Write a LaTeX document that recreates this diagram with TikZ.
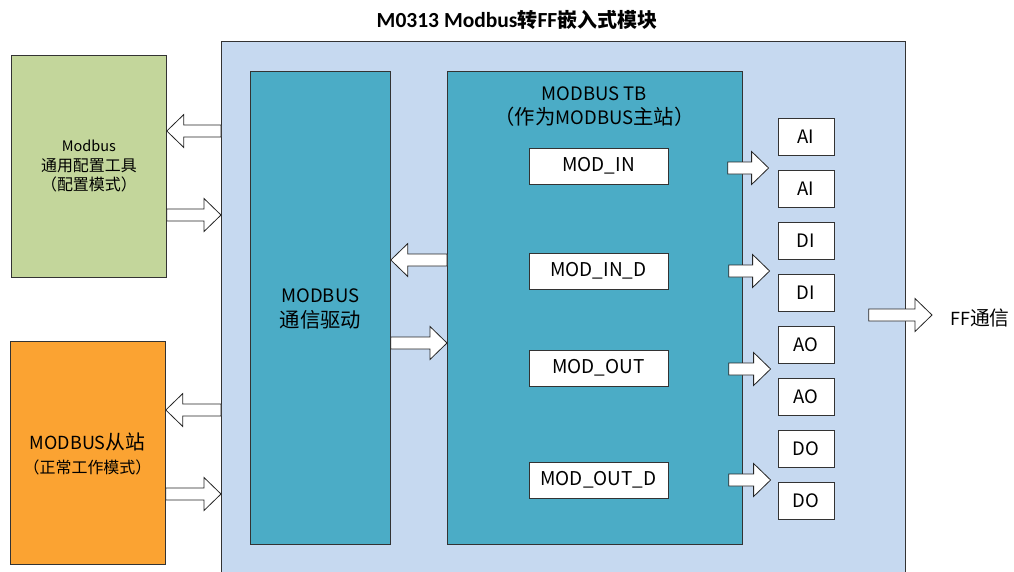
\documentclass[tikz,border=0pt]{standalone}
\usepackage{fontspec}
\setmainfont{Noto Sans CJK SC}
\newfontfamily\zh{Noto Sans CJK SC}[Scale=1.1]
\newfontfamily\carl{Carlito}
\usetikzlibrary{calc}
\definecolor{bgblue}{HTML}{C6D9F0}
\definecolor{tealbox}{HTML}{4BACC6}
\definecolor{greenbox}{HTML}{C3D69B}
\definecolor{orangebox}{HTML}{FBA332}
\definecolor{edge}{HTML}{333333}
\tikzset{
  box/.style={draw=edge, line width=0.8pt, rectangle, inner sep=0pt, anchor=north west, align=center},
  modbox/.style={box, fill=white, minimum width=139pt, minimum height=36pt, anchor=center, font=\fontsize{19}{22}\selectfont},
  iobox/.style={box, fill=white, minimum width=56pt, minimum height=37pt, anchor=center, font=\fontsize{18.5}{22}\selectfont},
  barrowstyle/.style={draw=black!85, fill=white, line width=0.8pt, line join=miter},
  txt/.style={inner sep=0pt, align=center},
}
\newcommand\blockarrow[2]{%
  \draw[barrowstyle] let \p1=(#1), \p2=(#2), \n1={sign(\x2-\x1)*17} in
    (\x1,{\y1+6pt}) -- ({\x2-\n1*1pt},{\y1+6pt}) -- ({\x2-\n1*1pt},{\y1+16.5pt})
    -- (\x2,\y1) -- ({\x2-\n1*1pt},{\y1-16.5pt}) -- ({\x2-\n1*1pt},{\y1-6pt})
    -- (\x1,{\y1-6pt}) -- cycle;}
\begin{document}
\begin{tikzpicture}[x=1pt,y=-1pt]
\useasboundingbox (0,0) rectangle (1014,571);
% title
\node[txt] (title) at (517,20) {\bfseries{\carl\fontsize{21.5}{26}\selectfont M0313 Modbus}{\fontsize{20}{26}\selectfont 转}{\carl\fontsize{21.5}{26}\selectfont FF}{\fontsize{20}{26}\selectfont 嵌入式模块}};
% main module
\node[box, fill=bgblue, minimum width=684pt, minimum height=545pt] (mod) at (221,41) {};
% left boxes
\node[box, fill=greenbox, minimum width=155pt, minimum height=222pt] (cfg) at (11,55) {};
\node[txt, font=\fontsize{14.5}{19.5}\selectfont] (cfgtxt) at (cfg.center) {Modbus\\{\zh 通用配置工具}\\{\zh （配置模式）}};
\node[box, fill=orangebox, minimum width=155pt, minimum height=223pt] (slave) at (10,341) {};
\node[txt, font=\fontsize{18}{22}\selectfont] (slavetxt1) at (87.5,442) {MODBUS{\zh 从站}};
\node[txt, font=\fontsize{14.5}{18}\selectfont] (slavetxt2) at (87.5,467) {\zh （正常工作模式）};
% driver
\node[box, fill=tealbox, minimum width=140pt, minimum height=473pt] (drv) at (250,71) {};
\node[txt, font=\fontsize{18.5}{25}\selectfont] (drvtxt) at ($(drv.center)+(0,1)$) {MODBUS\\{\zh 通信驱动}};
% TB
\node[box, fill=tealbox, minimum width=295pt, minimum height=473pt] (tb) at (447,71) {};
\node[txt, font=\fontsize{18.5}{24}\selectfont] (tbtxt) at (594.5,106.5) {MODBUS TB\\{\zh （作为}MODBUS{\zh 主站）}};
% MOD boxes
\node[modbox] (modin) at (598.5,166) {MOD\_IN};
\node[modbox] (modind) at (598.5,271) {MOD\_IN\_D};
\node[modbox] (modout) at (598.5,368) {MOD\_OUT};
\node[modbox] (modoutd) at (598.5,480) {MOD\_OUT\_D};
% IO boxes
\node[iobox] (ai1) at (806,136.5) {AI};
\node[iobox] (ai2) at (806,188.5) {AI};
\node[iobox] (di1) at (806,240.5) {DI};
\node[iobox] (di2) at (806,292.5) {DI};
\node[iobox] (ao1) at (806,344.5) {AO};
\node[iobox] (ao2) at (806,396.5) {AO};
\node[iobox] (do1) at (806,448.5) {DO};
\node[iobox] (do2) at (806,500.5) {DO};
% FF label
\node[txt, font=\fontsize{18}{20}\selectfont, anchor=west] (ff) at (950,318) {FF{\zh 通信}};
% block arrows
\blockarrow{mod.west |- 0,131}{cfg.east |- 0,131}
\blockarrow{cfg.east |- 0,215}{mod.west |- 0,215}
\blockarrow{mod.west |- 0,410}{slave.east |- 0,410}
\blockarrow{slave.east |- 0,494}{mod.west |- 0,494}
\blockarrow{tb.west |- 0,260}{drv.east |- 0,260}
\blockarrow{drv.east |- 0,343}{tb.west |- 0,343}
\blockarrow{$(tb.east |- 0,168)+(-15,0)$}{$(ai1.west |- 0,168)+(-9,0)$}
\blockarrow{$(tb.east |- 0,271)+(-14,0)$}{$(di1.west |- 0,271)+(-8,0)$}
\blockarrow{$(tb.east |- 0,369)+(-14,0)$}{$(ao1.west |- 0,369)+(-7,0)$}
\blockarrow{$(tb.east |- 0,480)+(-14,0)$}{$(do1.west |- 0,480)+(-7,0)$}
\blockarrow{$(mod.east |- 0,315)+(-37,0)$}{$(ff.west |- 0,315)+(-18,0)$}
\end{tikzpicture}
\end{document}
